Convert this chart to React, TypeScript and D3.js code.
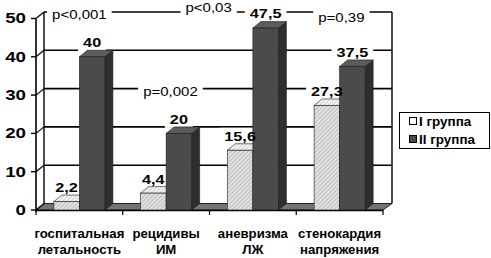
import React from "react";
import * as d3 from "d3";

const categories: string[][] = [
  ["госпитальная", "летальность"],
  ["рецидивы", "ИМ"],
  ["аневризма", "ЛЖ"],
  ["стенокардия", "напряжения"],
];
const seriesNames = ["I группа", "II группа"];
const group1 = [2.2, 4.4, 15.6, 27.3];
const group2 = [40, 20, 47.5, 37.5];
const group1Labels = ["2,2", "4,4", "15,6", "27,3"];
const group2Labels = ["40", "20", "47,5", "37,5"];
const yTicks = [0, 10, 20, 30, 40, 50];
const pTexts = ["p<0,001", "p=0,002", "p<0,03", "p=0,39"];
// placement of p-value notes: [category position (index units), value]
const pAnchors: [number, number][] = [
  [0.5, 49.2],
  [1.55, 29.1],
  [1.99, 51],
  [3.52, 48.4],
];

const W = 491;
const H = 258;
const DX = 8;
const DY = -6.5;
const SX = 1.25;
const FONT = "'Liberation Sans', Arial, sans-serif";

const measureCanvas = typeof document !== "undefined" ? document.createElement("canvas") : null;
function textWidth(t: string, size: number, weight: string) {
  if (!measureCanvas) return t.length * size * 0.56;
  const ctx = measureCanvas.getContext("2d")!;
  ctx.font = `${weight} ${size}px ${FONT}`;
  return ctx.measureText(t).width;
}

function T({ x, y, children, size, weight = "normal", anchor = "middle", sx = SX }: any) {
  return (
    <text
      transform={`translate(${x},${y}) scale(${sx},1)`}
      fontSize={size}
      fontWeight={weight}
      textAnchor={anchor}
      dominantBaseline="central"
      fontFamily={FONT}
      fill="#000"
    >
      {children}
    </text>
  );
}

export default function App() {
  const y = d3.scaleLinear().domain([0, 50]).range([210, 18.5]);
  const xCat = d3.scaleBand<number>().domain(d3.range(categories.length)).range([36, 383]).padding(0);
  const bw = xCat.bandwidth();
  const xSer = d3.scaleBand<number>().domain([0, 1]).range([0, bw]).paddingInner(0).paddingOuter(0.7);
  const barW = xSer.bandwidth();
  const xPos = d3.scaleLinear().domain([0, categories.length]).range([36, 383]);

  const x0 = 36;
  const x1 = 383;
  const y0 = y(0);
  const yB = (v: number) => y(v) + DY;

  const valueSize = 13;
  const pSize = 12;

  const labels: { text: string; cx: number; cy: number; size: number; weight: string }[] = [];
  group1.forEach((v, i) => {
    labels.push({
      text: group1Labels[i],
      cx: xCat(i)! + xSer(0)! + barW / 2,
      cy: y(v) - 14,
      size: valueSize,
      weight: "bold",
    });
  });
  group2.forEach((v, i) => {
    labels.push({
      text: group2Labels[i],
      cx: xCat(i)! + xSer(1)! + barW / 2,
      cy: y(v) - 14,
      size: valueSize,
      weight: "bold",
    });
  });
  pTexts.forEach((t, i) => {
    labels.push({
      text: t,
      cx: xPos(pAnchors[i][0]),
      cy: yB(pAnchors[i][1]),
      size: pSize,
      weight: "normal",
    });
  });

  const bar = (i: number, s: number, v: number) => {
    const bx = xCat(i)! + xSer(s)!;
    const top = y(v);
    const front = s === 0 ? "url(#hatch)" : "#4b4b4b";
    const topFill = s === 0 ? "url(#hatchTop)" : "#5c5c5c";
    const sideFill = s === 0 ? "#b8b8b8" : "#2e2e2e";
    const st = "#1a1a1a";
    return (
      <g key={`b${i}-${s}`}>
        <polygon
          points={`${bx + barW},${top} ${bx + barW + DX},${top + DY} ${bx + barW + DX},${y0 + DY} ${bx + barW},${y0}`}
          fill={sideFill}
          stroke={st}
          strokeWidth={0.6}
        />
        <polygon
          points={`${bx},${top} ${bx + DX},${top + DY} ${bx + barW + DX},${top + DY} ${bx + barW},${top}`}
          fill={topFill}
          stroke={st}
          strokeWidth={0.6}
        />
        <rect x={bx} y={top} width={barW} height={y0 - top} fill={front} stroke={st} strokeWidth={0.6} />
      </g>
    );
  };

  return (
    <svg width={W} height={H} style={{ position: "absolute", left: 0, top: 0, background: "#fff" }}>
      <defs>
        <pattern id="hatch" width={3} height={3} patternUnits="userSpaceOnUse" patternTransform="rotate(45)">
          <rect width={3} height={3} fill="#e2e2e2" />
          <line x1={0} y1={0} x2={0} y2={3} stroke="#a3a3a3" strokeWidth={1.2} />
        </pattern>
        <pattern id="hatchTop" width={3} height={3} patternUnits="userSpaceOnUse" patternTransform="rotate(45)">
          <rect width={3} height={3} fill="#f2f2f2" />
          <line x1={0} y1={0} x2={0} y2={3} stroke="#c4c4c4" strokeWidth={1.2} />
        </pattern>
      </defs>
      <rect width={W} height={H} fill="#fff" />

      {/* floor */}
      <polygon
        points={`${x0},${y0} ${x0 + DX},${y0 + DY} ${x1 + DX + 1},${y0 + DY} ${x1},${y0}`}
        fill="#747474"
        stroke="#222"
        strokeWidth={1}
      />

      {/* gridlines on back and left walls */}
      {yTicks.map((t) => (
        <g key={`g${t}`}>
          {t > 0 && (
            <line x1={x0 + DX} x2={x1 + DX + 1} y1={yB(t)} y2={yB(t)} stroke="#000" strokeWidth={1.6} />
          )}
          <line x1={x0} y1={y(t)} x2={x0 + DX} y2={yB(t)} stroke="#000" strokeWidth={1.2} />
          <line x1={x0 - 5} x2={x0} y1={y(t)} y2={y(t)} stroke="#000" strokeWidth={1.4} />
        </g>
      ))}
      {/* walls */}
      <line x1={x0 + DX} x2={x0 + DX} y1={yB(50)} y2={yB(0)} stroke="#000" strokeWidth={1.4} />
      <line x1={x1 + DX + 1} x2={x1 + DX + 1} y1={yB(50)} y2={yB(0)} stroke="#000" strokeWidth={1.4} />
      <line x1={x0} x2={x0} y1={y(50)} y2={y0 + 2} stroke="#000" strokeWidth={1.6} />

      {/* category axis */}
      <line x1={x0} x2={x1} y1={y0 + 0.5} y2={y0 + 0.5} stroke="#000" strokeWidth={1.4} />
      {d3.range(categories.length + 1).map((k) => (
        <line key={`ct${k}`} x1={xPos(k)} x2={xPos(k)} y1={y0} y2={y0 + 5} stroke="#000" strokeWidth={1.2} />
      ))}

      {/* tick labels */}
      {yTicks.map((t) => (
        <T key={`tl${t}`} x={26} y={y(t)} size={15} weight="bold" anchor="end">
          {String(t)}
        </T>
      ))}

      {/* label boxes */}
      {labels.map((l, k) => {
        const w = textWidth(l.text, l.size, l.weight) * SX + 10;
        const h = l.size + 4;
        return <rect key={`lb${k}`} x={l.cx - w / 2} y={l.cy - h / 2} width={w} height={h} fill="#fff" />;
      })}

      {/* bars */}
      {categories.map((_, i) => (
        <g key={`c${i}`}>
          {bar(i, 0, group1[i])}
          {bar(i, 1, group2[i])}
        </g>
      ))}

      {/* label texts */}
      {labels.map((l, k) => (
        <T key={`lt${k}`} x={l.cx} y={l.cy} size={l.size} weight={l.weight}>
          {l.text}
        </T>
      ))}

      {/* category labels */}
      {categories.map((c, i) =>
        c.map((line, j) => (
          <T key={`cl${i}-${j}`} x={xCat(i)! + bw / 2} y={234 + j * 16} size={12} weight="bold" sx={1.1}>
            {line}
          </T>
        ))
      )}

      {/* legend */}
      <rect x={399.5} y={112.5} width={90} height={36} fill="#fff" stroke="#000" strokeWidth={1} />
      {seriesNames.map((s, i) => (
        <g key={`lg${i}`}>
          <rect
            x={409.5}
            y={121 + i * 18 - 3.5}
            width={7}
            height={7}
            fill={i === 0 ? "#fff" : "#4b4b4b"}
            stroke="#000"
            strokeWidth={1}
          />
          <T x={419} y={121.5 + i * 18} size={12} weight="bold" anchor="start" sx={1.12}>
            {s}
          </T>
        </g>
      ))}
    </svg>
  );
}
